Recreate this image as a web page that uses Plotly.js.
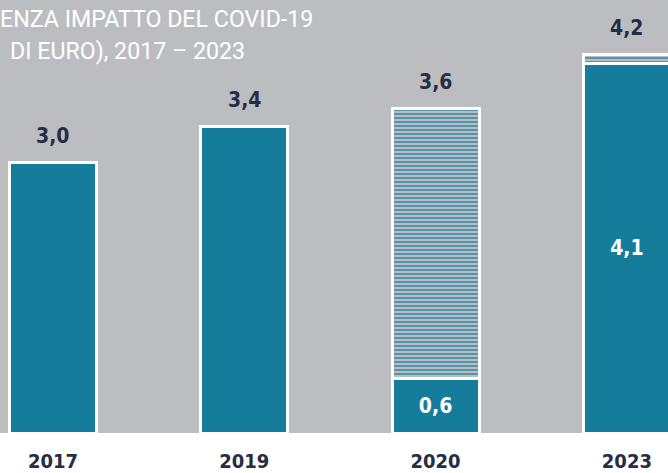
<!DOCTYPE html>
<html><head><meta charset="utf-8">
<script src="https://cdn.plot.ly/plotly-3.0.1.min.js"></script>
<style>html,body{margin:0;padding:0;background:#fff}#c{width:668px;height:473px}</style>
</head><body><div id="c"></div>
<script>
const years = ['2017', '2019', '2020', '2023'];
const solidValues = [3.0, 3.4, 0.6, 4.1];
const covidValues = [null, null, 3.0, 0.1];
const totalValues = [3.0, 3.4, 3.6, 4.2];
const totalLabels = ['3,0', '3,4', '3,6', '4,2'];
const insideLabels = ['', '', '0,6', '4,1'];
const titleLine1 = 'ENZA IMPATTO DEL COVID-19';
const titleLine2 = 'DI EURO), 2017 – 2023';

const teal = '#167c9b';
const gray = '#bcbdc1';
const navy = '#262d44';
const labelFont = '"DejaVu Sans Condensed", "DejaVu Sans", sans-serif';

const traces = [
  {
    type: 'bar', x: years, y: solidValues, width: 0.455,
    marker: {color: teal, line: {color: '#ffffff', width: 3}},
    text: insideLabels, textposition: 'inside', insidetextanchor: 'middle',
    textfont: {family: labelFont, size: 21, color: '#ffffff', weight: 'bold', stretch: 'extra-condensed'},
    hoverinfo: 'none'
  },
  {
    type: 'bar', x: years, y: covidValues, width: 0.455,
    marker: {color: '#b6bcc2', line: {color: '#ffffff', width: 3},
      pattern: {shape: '-', fgcolor: '#3d89a6', bgcolor: '#b8bdc2', size: 4, solidity: 0.4}},
    hoverinfo: 'none'
  }
];

const annotations = years.map((yr, i) => ({
  x: i, y: totalValues[i], xref: 'x', yref: 'y', text: totalLabels[i],
  showarrow: false, yshift: 27, yanchor: 'middle', xanchor: 'center',
  font: {family: labelFont, size: 21, color: navy, weight: 'bold', stretch: 'extra-condensed'}
}));
annotations.push({
  xref: 'paper', yref: 'paper', x: 0, y: 1, xanchor: 'left', yanchor: 'middle',
  yshift: -19, xshift: -2, text: titleLine1, showarrow: false,
  font: {family: 'Roboto, sans-serif', size: 23.2, color: '#ffffff'}
});
annotations.push({
  xref: 'paper', yref: 'paper', x: 0, y: 1, xanchor: 'left', yanchor: 'middle',
  yshift: -51, xshift: 8, text: titleLine2, showarrow: false,
  font: {family: 'Roboto, sans-serif', size: 23.2, color: '#ffffff'}
});

const layout = {
  width: 668, height: 473,
  margin: {l: 0, r: 0, t: 0, b: 40, pad: 0},
  paper_bgcolor: '#ffffff', plot_bgcolor: gray,
  barmode: 'stack', showlegend: false,
  xaxis: {type: 'category', range: [-0.277, 3.215], showgrid: false, zeroline: false,
    showline: false, ticks: 'outside', ticklen: 10, tickcolor: 'rgba(0,0,0,0)',
    tickfont: {family: labelFont, size: 20, color: navy, weight: 'bold', stretch: 'extra-condensed'}, fixedrange: true},
  yaxis: {range: [0, 4.81], visible: false, showgrid: false, zeroline: false, fixedrange: true},
  annotations: annotations
};

Plotly.newPlot('c', traces, layout, {displayModeBar: false, staticPlot: true});
</script></body></html>
